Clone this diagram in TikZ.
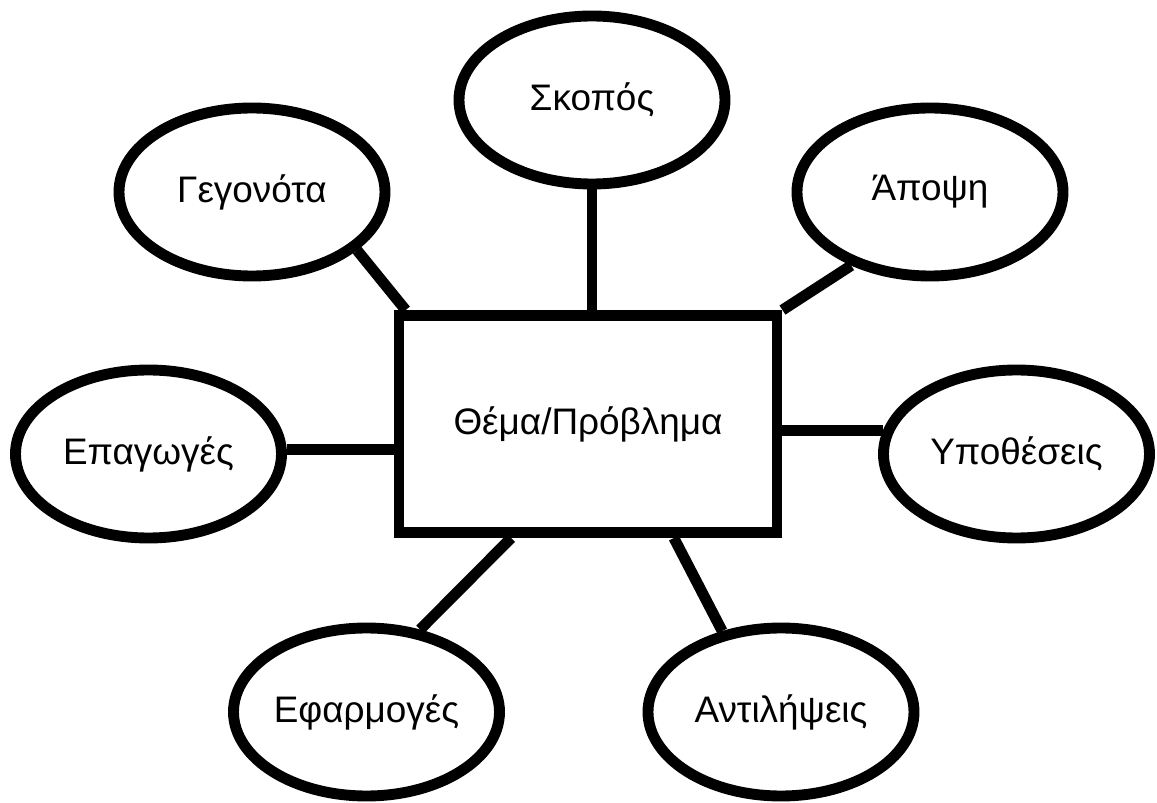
\documentclass[tikz,border=0pt]{standalone}
\usepackage{fontspec}
\setmainfont{Liberation Sans}
\usetikzlibrary{shapes.geometric}
\begin{document}
\begin{tikzpicture}[line width=6.2pt,
  every node/.style={font=\fontsize{21}{25}\selectfont},
  idea/.style={draw,ellipse,minimum width=5.32cm,minimum height=3.36cm,inner sep=0pt},
  topic/.style={draw,rectangle,minimum width=7.56cm,minimum height=4.34cm,inner sep=0pt}]
\useasboundingbox (0,0) rectangle (23.14,16.04);
\node[topic] (thema) at (11.76,7.56) {Θέμα/Πρόβλημα};
\node[idea] (skopos) at (11.84,14.04) {Σκοπός};
\node[idea] (geg) at (5.04,12.2) {Γεγονότα};
\node[idea] (apopsi) at (18.6,12.2) {Άποψη};
\node[idea] (epag) at (2.97,6.96) {Επαγωγές};
\node[idea] (hyp) at (20.33,6.96) {Υποθέσεις};
\node[idea] (efarm) at (7.33,1.8) {Εφαρμογές};
\node[idea] (antil) at (15.62,1.8) {Αντιλήψεις};
\draw (skopos.south) -- (skopos.south |- thema.north);
\draw (geg.-29) -- (thema.148);
\draw (apopsi.223) -- (thema.north east);
\draw (epag.2) -- (epag.2 -| thema.west);
\draw (hyp.170) -- (hyp.170 -| thema.east);
\draw (efarm.57) -- (thema.-124);
\draw (antil.126) -- (thema.-53);
\end{tikzpicture}
\end{document}
